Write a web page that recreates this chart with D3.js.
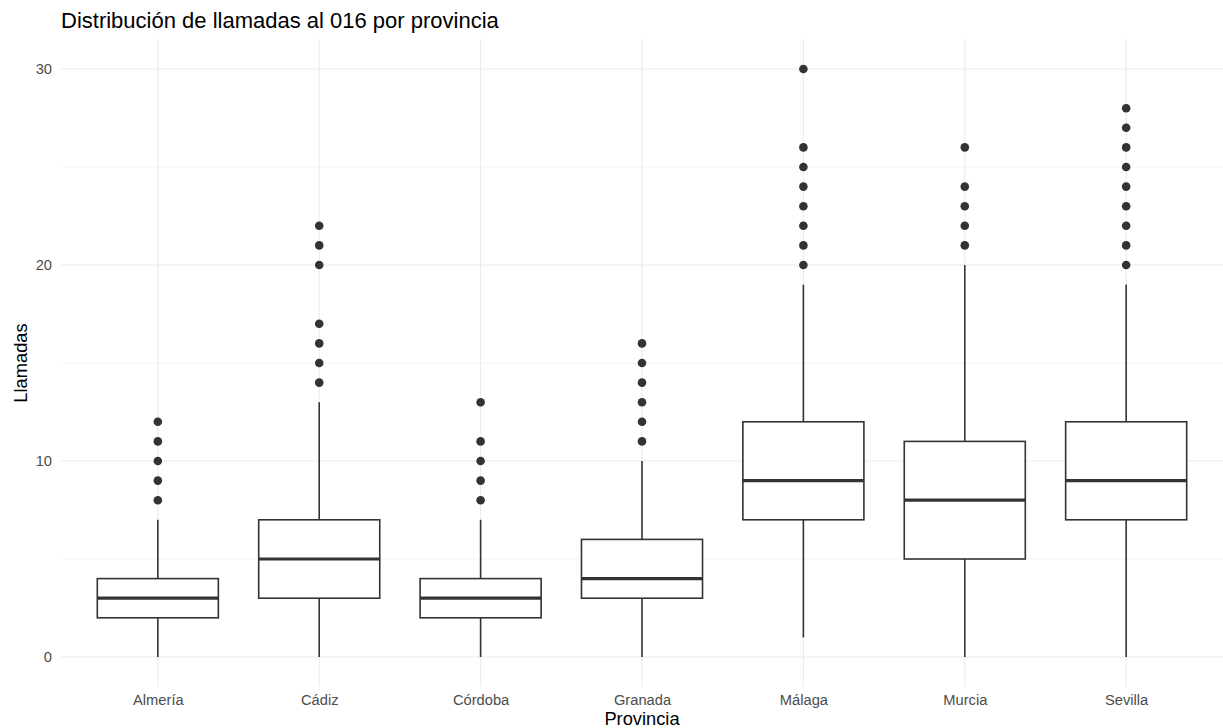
<!DOCTYPE html>
<html><head><meta charset="utf-8">
<script src="https://cdn.jsdelivr.net/npm/d3@7"></script>
<style>body{margin:0;background:#fff;} text{font-family:"Liberation Sans",Arial,sans-serif;}</style>
</head><body>
<svg id="c" width="1223" height="728"></svg>
<script>
const provincias = ["Almería","Cádiz","Córdoba","Granada","Málaga","Murcia","Sevilla"];
const whiskerLow  = [0, 0, 0, 0, 1, 0, 0];
const q1          = [2, 3, 2, 3, 7, 5, 7];
const medians     = [3, 5, 3, 4, 9, 8, 9];
const q3          = [4, 7, 4, 6, 12, 11, 12];
const whiskerHigh = [7, 13, 7, 10, 19, 20, 19];
const outliers = [
  [8,9,10,11,12],
  [14,15,16,17,20,21,22],
  [8,9,10,11,13],
  [11,12,13,14,15,16],
  [20,21,22,23,24,25,26,30],
  [21,22,23,24,26],
  [20,21,22,23,24,25,26,27,28]
];
const yMajor = [0,10,20,30];
const yMinor = [5,15,25];

const svg = d3.select("#c");
const L = 61, R = 1223, T = 39.6, B = 686.4;
const x = d3.scalePoint().domain(provincias).range([L, R]).padding(0.6);
const y = d3.scaleLinear().domain([-1.5, 31.5]).range([B, T]);
const bw = x.step() * 0.75;
const grid = "#EBEBEB";

const g = svg.append("g");
g.selectAll(".ymin").data(yMinor).join("line")
  .attr("x1", L).attr("x2", R).attr("y1", d=>y(d)).attr("y2", d=>y(d))
  .attr("stroke", grid).attr("stroke-width", 0.6);
g.selectAll(".ymaj").data(yMajor).join("line")
  .attr("x1", L).attr("x2", R).attr("y1", d=>y(d)).attr("y2", d=>y(d))
  .attr("stroke", grid).attr("stroke-width", 1.1);
g.selectAll(".xmaj").data(provincias).join("line")
  .attr("x1", d=>x(d)).attr("x2", d=>x(d)).attr("y1", T).attr("y2", B)
  .attr("stroke", grid).attr("stroke-width", 1.1);

const data = provincias.map((p,i)=>({p, lo:whiskerLow[i], q1:q1[i], med:medians[i], q3:q3[i], hi:whiskerHigh[i], out:outliers[i]}));
const col = "#333333";
const bx = svg.append("g").selectAll("g").data(data).join("g");
bx.append("line").attr("x1", d=>x(d.p)).attr("x2", d=>x(d.p))
  .attr("y1", d=>y(d.q3)).attr("y2", d=>y(d.hi)).attr("stroke", col).attr("stroke-width", 1.6);
bx.append("line").attr("x1", d=>x(d.p)).attr("x2", d=>x(d.p))
  .attr("y1", d=>y(d.q1)).attr("y2", d=>y(d.lo)).attr("stroke", col).attr("stroke-width", 1.6);
bx.append("rect").attr("x", d=>x(d.p)-bw/2).attr("width", bw)
  .attr("y", d=>y(d.q3)).attr("height", d=>y(d.q1)-y(d.q3))
  .attr("fill", "#fff").attr("stroke", col).attr("stroke-width", 1.6);
bx.append("line").attr("x1", d=>x(d.p)-bw/2).attr("x2", d=>x(d.p)+bw/2)
  .attr("y1", d=>y(d.med)).attr("y2", d=>y(d.med)).attr("stroke", col).attr("stroke-width", 3.2);
bx.selectAll("circle").data(d=>d.out.map(v=>({p:d.p, v}))).join("circle")
  .attr("cx", d=>x(d.p)).attr("cy", d=>y(d.v)).attr("r", 4.3).attr("fill", col);

// axes
const yAxis = d3.axisLeft(y).tickValues(yMajor).tickSize(0).tickPadding(9);
const ya = svg.append("g").attr("transform", `translate(${L},0)`).call(yAxis);
ya.select(".domain").remove();
ya.selectAll("text").attr("fill", "#4D4D4D").style("font-size", "14.7px").style("font-family", "'Liberation Sans',Arial,sans-serif");

const xAxis = d3.axisBottom(x).tickSize(0).tickPadding(8);
const xa = svg.append("g").attr("transform", `translate(0,${B})`).call(xAxis);
xa.select(".domain").remove();
xa.selectAll("text").attr("fill", "#4D4D4D").style("font-size", "14.7px").style("font-family", "'Liberation Sans',Arial,sans-serif");

svg.append("text").attr("x", (L+R)/2).attr("y", 725).attr("text-anchor", "middle")
  .style("font-size", "18.3px").attr("fill", "#000").text("Provincia");
svg.append("text").attr("transform", `translate(27,${(T+B)/2}) rotate(-90)`).attr("text-anchor", "middle")
  .style("font-size", "18.3px").attr("fill", "#000").text("Llamadas");
svg.append("text").attr("x", 61).attr("y", 28)
  .style("font-size", "22px").attr("fill", "#000").text("Distribución de llamadas al 016 por provincia");
</script>
</body></html>
